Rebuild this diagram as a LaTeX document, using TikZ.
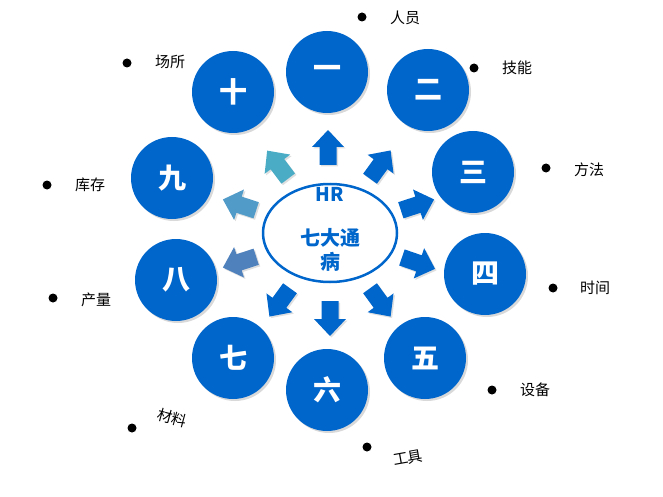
\documentclass[tikz,border=0pt]{standalone}
\usepackage{fontspec}
\setmainfont{Noto Sans CJK SC}
\usetikzlibrary{shadows,shapes.geometric}
\definecolor{mb}{RGB}{0,102,204}
\definecolor{ta}{RGB}{75,172,198}
\definecolor{tb}{RGB}{80,155,200}
\definecolor{tc}{RGB}{79,129,189}
\tikzset{
  bigc/.style={circle,fill=mb,minimum size=82pt,inner sep=0pt,text=white,font=\fontsize{28}{30}\selectfont\bfseries,drop shadow={opacity=0.3,shadow xshift=2pt,shadow yshift=-2pt}},
  lbl/.style={font=\fontsize{15}{17}\selectfont,text=black,inner sep=0pt},
  dot/.style={circle,fill=black,minimum size=9pt,inner sep=0pt},
}
\begin{document}
\begin{tikzpicture}[x=1pt,y=-1pt]
\useasboundingbox (0,0) rectangle (663,497);
\node[bigc] (c1) at (327,72) {一};
\node[bigc] (c2) at (428,90) {二};
\node[bigc] (c3) at (473,172) {三};
\node[bigc] (c4) at (485,274) {四};
\node[bigc] (c5) at (425,358) {五};
\node[bigc] (c6) at (327,390) {六};
\node[bigc] (c7) at (233,358) {七};
\node[bigc] (c8) at (176,280) {八};
\node[bigc] (c9) at (172,178) {九};
\node[bigc] (c10) at (233,92) {十};
\node[draw=mb,line width=2.5pt,ellipse,minimum width=134pt,minimum height=98pt,inner sep=0pt] (e) at (330,233) {};
\node[text=mb,font=\fontsize{19}{21}\selectfont\bfseries] (hr) at (330,194) {HR};
\node[text=mb,font=\fontsize{20}{24}\selectfont\bfseries,align=center] (t) at (330,250) {七大通\\病};
\foreach \x/\y/\a/\c in {328/148/90/mb,380/165/54/mb,417/205/18/mb,418/263/-19/mb,380/302/-54/mb,330/318/-90/mb,280/302/-126/mb,240/262/-162/tc,240/205/162/tb,278/165/127/ta}{
  \begin{scope}[shift={(\x,\y)},rotate=\a]
  \fill[\c,drop shadow={opacity=0.25,shadow xshift=1.5pt,shadow yshift=-1.5pt}] (-17,-8.5)--(1,-8.5)--(1,-16)--(18,0)--(1,16)--(1,8.5)--(-17,8.5)--cycle;
  \end{scope}
}
\foreach \n/\bx/\by/\tx/\ty/\r/\s in {a/362/17/405/18/0/人员,b/474/68/517/68/0/技能,c/546/168/589/170/0/方法,d/553/288/595/288/0/时间,e/492/390/535/390/0/设备,f/367/447/408/458/10/工具,g/132/428/172/418/-15/材料,h/53/298/96/300/0/产量,i/47/185/90/185/0/库存,j/127/63/170/62/0/场所}{
  \node[dot] (d\n) at (\bx,\by) {};
  \node[lbl,rotate=\r] (l\n) at (\tx,\ty) {\s};
}
\end{tikzpicture}
\end{document}
